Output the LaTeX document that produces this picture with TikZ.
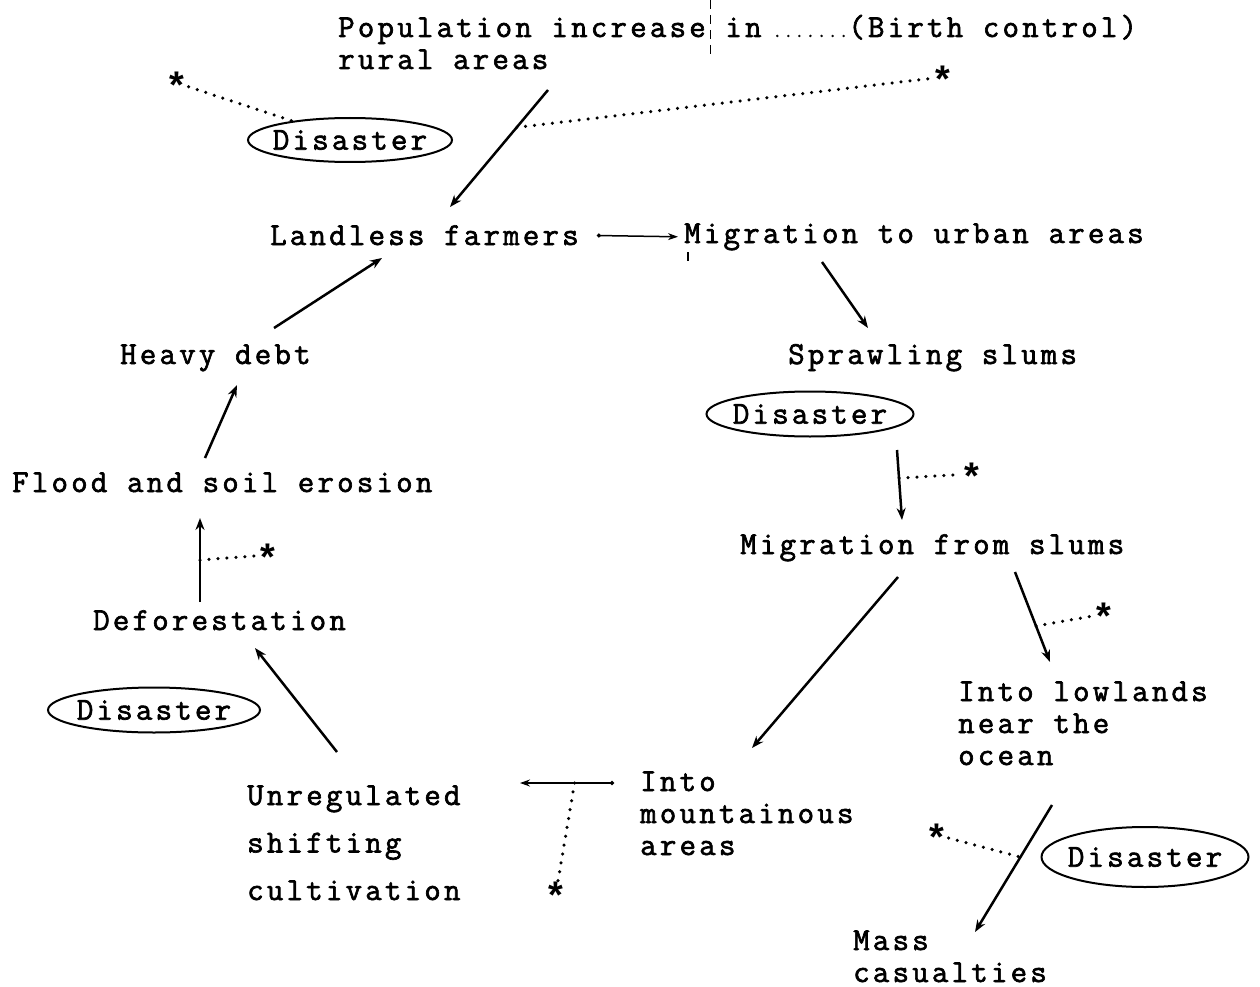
\documentclass[tikz,border=0pt]{standalone}
\usepackage{fontspec}
\newfontfamily\tw{Liberation Mono}
\newfontfamily\lmtw{Latin Modern Mono}[LetterSpace=10,FakeBold=2]
\usetikzlibrary{shapes.geometric,arrows.meta}
% typewriter face with the wide pitch of the labels
\newcommand\typeface{\lmtw\fontsize{32}{32}\selectfont}
% asterisk lowered so that its glyph sits on the node centre
\newcommand\mystar{\smash{\raisebox{-0.44em}{*}}}
\begin{document}
\begin{tikzpicture}[x=1pt,y=-1pt,
  txt/.style={anchor=base west,inner sep=0pt,align=left,font=\typeface},
  arr/.style={line width=2.5pt,-{Stealth[length=12pt,width=9pt]}},
  thinarr/.style={line width=1.5pt,{Circle[length=4pt]}-{Stealth[length=10pt,width=7pt]}},
  dots/.style={line width=3.5pt,line cap=round,dash pattern=on 0pt off 9pt},
  ast/.style={inner sep=0pt,minimum size=16pt,
    font=\tw\bfseries\fontsize{38}{38}\selectfont},
  disaster/.style={ellipse,draw,line width=2pt,inner sep=0pt,
    label={[font=\typeface,inner sep=0pt]center:Disaster}},
]
\useasboundingbox (0,0) rectangle (1260,987);
\fill[white] (0,0) rectangle (1260,987);

% text nodes (multi-line nodes are placed by the baseline of their last line)
\node[txt] (pop) at (338,37) {Population increase in{\fontsize{18}{18}\selectfont\ .......}(Birth control)};
\node[txt] (rural) at (338,69) {rural areas};
\node[txt] (landless) at (270,245) {Landless farmers};
\node[txt] (urban) at (684,243) {Migration to urban areas};
\node[txt] (slums) at (788,364) {Sprawling slums};
\node[txt] (debt) at (120,364) {Heavy debt};
\node[txt] (flood) at (12,492) {Flood and soil erosion};
\node[txt] (fromslums) at (740,554) {Migration from slums};
\node[txt] (defor) at (93,630) {Deforestation};
\node[txt] (low) at (958,765) {Into lowlands\\near the\\ocean};
\node[txt] (mount) at (640,855) {Into\\mountainous\\areas};
\node[txt] (shift) at (247,900) {Unregulated\\[15.5pt]shifting\\[15.5pt]cultivation};
\node[txt] (mass) at (853,982) {Mass\\casualties};

% disaster ellipses
\node[disaster,minimum width=204pt,minimum height=44pt] (dis1) at (350,140) {};
\node[disaster,minimum width=207pt,minimum height=45pt] (dis2) at (810,414) {};
\node[disaster,minimum width=212pt,minimum height=45pt] (dis3) at (154,710) {};
\node[disaster,minimum width=207pt,minimum height=60pt] (dis4) at (1145,857) {};

% asterisks
\node[ast] (s1) at (177,83) {\mystar};
\node[ast] (s2) at (943,77) {\mystar};
\node[ast] (s3) at (972,474) {\mystar};
\node[ast] (s4) at (1104,614) {\mystar};
\node[ast] (s5) at (937,835) {\mystar};
\node[ast] (s6) at (556,893) {\mystar};
\node[ast] (s7) at (268,555) {\mystar};

% connector ends
\coordinate (ruralOut) at (548,90);   \coordinate (landIn) at (450,207);
\coordinate (urbanOut) at (822,262);  \coordinate (slumsIn) at (868,328);
\coordinate (dis2Out) at (897,450);   \coordinate (fromIn) at (902,520);
\coordinate (fromOutL) at (898,577);  \coordinate (mountIn) at (752,748);
\coordinate (fromOutR) at (1015,572); \coordinate (lowIn) at (1050,662);
\coordinate (lowOut) at (1052,805);   \coordinate (massIn) at (975,932);
\coordinate (mountOut) at (614,783);  \coordinate (shiftIn) at (520,783);
\coordinate (shiftOut) at (337,752);  \coordinate (deforIn) at (255,648);
\coordinate (deforOut) at (200,602);  \coordinate (floodIn) at (200,518);
\coordinate (floodOut) at (205,458);  \coordinate (debtIn) at (237,385);
\coordinate (debtOut) at (274,328);   \coordinate (landIn2) at (382,258);

% causal arrows
\draw[arr] (ruralOut) -- (landIn) coordinate[pos=0.32] (k1);
\draw[thinarr,shorten <=18pt,shorten >=6pt] (landless.east) -- (urban.west);
\draw[arr] (urbanOut) -- (slumsIn);
\draw[arr] (dis2Out) -- (fromIn) coordinate[pos=0.4] (k2);
\draw[arr] (fromOutL) -- (mountIn);
\draw[arr] (fromOutR) -- (lowIn) coordinate[pos=0.6] (k3);
\draw[arr] (lowOut) -- (massIn) coordinate[pos=0.41] (k4);
\draw[thinarr] (mountOut) -- (shiftIn) coordinate[pos=0.42] (k5);
\draw[arr] (shiftOut) -- (deforIn);
\draw[arr] (deforOut) -- (floodIn) coordinate[pos=0.5] (k6);
\draw[arr] (floodOut) -- (debtIn);
\draw[arr] (debtOut) -- (landIn2);

% dotted links to the asterisks
\draw[dots] (s1) -- (dis1);
\draw[dots] (k1) -- (s2);
\draw[dots] (k2) -- (s3);
\draw[dots] (k3) -- (s4);
\draw[dots] (s5) -- (k4);
\draw[dots] (k5) -- (s6);
\draw[dots] (k6) -- (s7);

% fold marks
\draw[line width=1pt,dash pattern=on 9pt off 6pt] (710,0) -- (710,54);
\draw[line width=1.2pt] (688,252) -- (688,261);
\end{tikzpicture}
\end{document}
